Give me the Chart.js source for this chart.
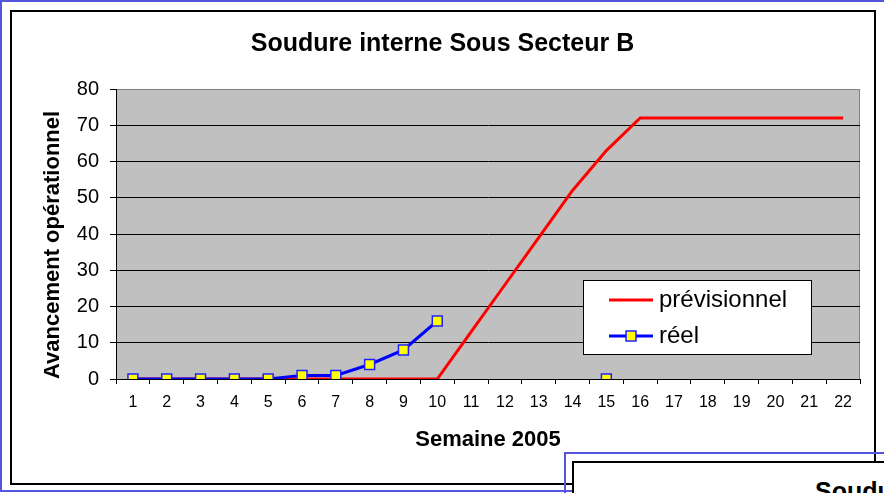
<!DOCTYPE html>
<html lang="fr">
<head>
<meta charset="utf-8">
<title>Soudure interne Sous Secteur B</title>
<script src="https://cdn.jsdelivr.net/npm/chart.js@4.4.1/dist/chart.umd.min.js"></script>
<style>
  html, body { margin: 0; padding: 0; background: #fff; overflow: hidden; }
  body { width: 884px; height: 493px; position: relative; font-family: "Liberation Sans", Arial, sans-serif; }
  .sel { position: absolute; border: 2px solid #5555dd; box-sizing: border-box; }
  .frame { position: absolute; border: 2px solid #000; box-sizing: border-box; background: #fff; overflow: hidden; }
  #selA { left: 0; top: 0; width: 1000px; height: 492px; }
  #frameA { left: 10px; top: 10px; width: 866px; height: 475px; }
  #chartWrap { position: absolute; left: 0; top: 0; width: 884px; height: 493px; }
  #selB { left: 564px; top: 452px; width: 400px; height: 100px; background: transparent; }
  #frameB { left: 572px; top: 461px; width: 400px; height: 100px; }
  #nextTitle { position: absolute; left: 241px; top: 16px; font: bold 25px/25px "Liberation Sans", Arial, sans-serif; white-space: nowrap; color: #000; }
</style>
</head>
<body>
<div class="sel" id="selA"></div>
<div class="frame" id="frameA"></div>
<div id="chartWrap"><canvas id="chart" width="884" height="493"></canvas></div>
<div class="sel" id="selB"></div>
<div class="frame" id="frameB"><div id="nextTitle">Soudure</div></div>

<script>
// Data
const weeks = ['1', '2', '3', '4', '5', '6', '7', '8', '9', '10', '11',
               '12', '13', '14', '15', '16', '17', '18', '19', '20', '21', '22'];
const previsionnel = [0, 0, 0, 0, 0, 0, 0, 0, 0, 0, 13, 26, 39, 52, 63, 72, 72, 72, 72, 72, 72, 72];
const reel = [0, 0, 0, 0, 0, 1, 1, 4, 8, 16, null, null, null, null, 0, null, null, null, null, null, null, null];
const seriesNames = ['prévisionnel', 'réel'];
const yMin = 0;
const yMax = 80;
const yStep = 10;

const FONT = '"Liberation Sans", Arial, sans-serif';
Chart.defaults.font.family = FONT;
Chart.defaults.color = '#000';

// grey plot area with thin grey frame
const plotBackground = {
    id: 'plotBackground',
    beforeDraw(chart) {
        const { ctx, chartArea: a } = chart;
        ctx.save();
        ctx.fillStyle = '#c0c0c0';
        ctx.fillRect(a.left, a.top, a.width, a.height);
        ctx.strokeStyle = '#808080';
        ctx.lineWidth = 1;
        ctx.strokeRect(a.left + 0.5, a.top + 0.5, a.width - 1, a.height);
        ctx.restore();
    }
};

// boxed legend sitting inside the plot, like the original
const boxLegend = {
    id: 'boxLegend',
    afterDraw(chart, args, opts) {
        const { ctx } = chart;
        ctx.save();
        ctx.fillStyle = '#fff';
        ctx.fillRect(opts.x, opts.y, opts.width, opts.height);
        ctx.strokeStyle = '#000';
        ctx.lineWidth = 1;
        ctx.strokeRect(opts.x + 0.5, opts.y + 0.5, opts.width - 1, opts.height - 1);

        chart.data.datasets.forEach((ds, i) => {
            const cy = opts.y + opts.firstRow + i * opts.rowGap;
            const x0 = opts.x + opts.lineStart;
            ctx.strokeStyle = ds.borderColor;
            ctx.lineWidth = ds.borderWidth;
            ctx.beginPath();
            ctx.moveTo(x0, cy);
            ctx.lineTo(x0 + opts.lineLength, cy);
            ctx.stroke();
            if (ds.pointRadius > 0) {
                ctx.fillStyle = ds.pointBackgroundColor;
                ctx.strokeStyle = ds.pointBorderColor;
                ctx.lineWidth = ds.pointBorderWidth;
                Chart.helpers.drawPoint(ctx, {
                    pointStyle: ds.pointStyle,
                    radius: ds.pointRadius,
                    rotation: 0,
                    borderWidth: ds.pointBorderWidth
                }, x0 + opts.lineLength / 2, cy);
            }
            ctx.fillStyle = '#000';
            ctx.font = '24px ' + FONT;
            ctx.textBaseline = 'middle';
            ctx.textAlign = 'left';
            ctx.fillText(ds.label, opts.x + opts.textStart, cy);
        });
        ctx.restore();
    }
};

new Chart(document.getElementById('chart'), {
    type: 'line',
    data: {
        labels: weeks,
        datasets: [{
            label: seriesNames[0],
            data: previsionnel,
            borderColor: '#ff0000',
            backgroundColor: '#ff0000',
            borderWidth: 3,
            pointRadius: 0,
            tension: 0,
            order: 2
        }, {
            label: seriesNames[1],
            data: reel,
            borderColor: '#0000ff',
            backgroundColor: '#0000ff',
            borderWidth: 3,
            pointStyle: 'rect',
            pointRadius: 7,
            pointBackgroundColor: '#ffff00',
            pointBorderColor: '#2020ff',
            pointBorderWidth: 1.5,
            spanGaps: false,
            tension: 0,
            order: 1
        }]
    },
    options: {
        responsive: false,
        animation: false,
        layout: { padding: { left: 10, right: 9, top: 0, bottom: 0 } },
        scales: {
            x: {
                type: 'category',
                offset: true,
                grid: { offset: true, drawOnChartArea: false, drawTicks: true, tickLength: 5, color: '#000' },
                border: { color: '#000', width: 1 },
                ticks: { font: { size: 16 }, color: '#000', padding: 9, maxRotation: 0, autoSkip: false },
                title: {
                    display: true,
                    text: 'Semaine 2005',
                    font: { size: 22, weight: 'bold' },
                    color: '#000',
                    padding: { top: 0, bottom: 40 }
                },
                afterFit(scale) { scale.height = 114; }
            },
            y: {
                min: yMin,
                max: yMax,
                grid: {
                    color: c => (c.tick && c.tick.value === yMax ? '#808080' : '#000'),
                    tickColor: '#000',
                    tickLength: 6,
                    lineWidth: 1
                },
                border: { color: '#000', width: 1 },
                ticks: { stepSize: yStep, font: { size: 20 }, color: '#000', padding: 11 },
                title: {
                    display: true,
                    text: 'Avancement opérationnel',
                    align: 'start',
                    font: { size: 22, weight: 'bold' },
                    color: '#000',
                    padding: { top: 30, bottom: 0 }
                },
                afterFit(scale) { scale.width = 106; }
            },
            // empty spacer on the right so the title centres like the original
            spacer: {
                position: 'right',
                display: true,
                grid: { display: false },
                border: { display: false },
                ticks: { display: false },
                afterFit(scale) { scale.width = 15; }
            }
        },
        plugins: {
            legend: { display: false },
            tooltip: { enabled: false },
            title: {
                display: true,
                text: 'Soudure interne Sous Secteur B',
                font: { size: 25, weight: 'bold' },
                color: '#000',
                padding: { top: 29, bottom: 30 }
            },
            boxLegend: {
                x: 583, y: 280, width: 229, height: 75,
                firstRow: 20, rowGap: 36,
                lineStart: 26, lineLength: 44, textStart: 76
            }
        }
    },
    plugins: [plotBackground, boxLegend]
});
</script>
</body>
</html>
